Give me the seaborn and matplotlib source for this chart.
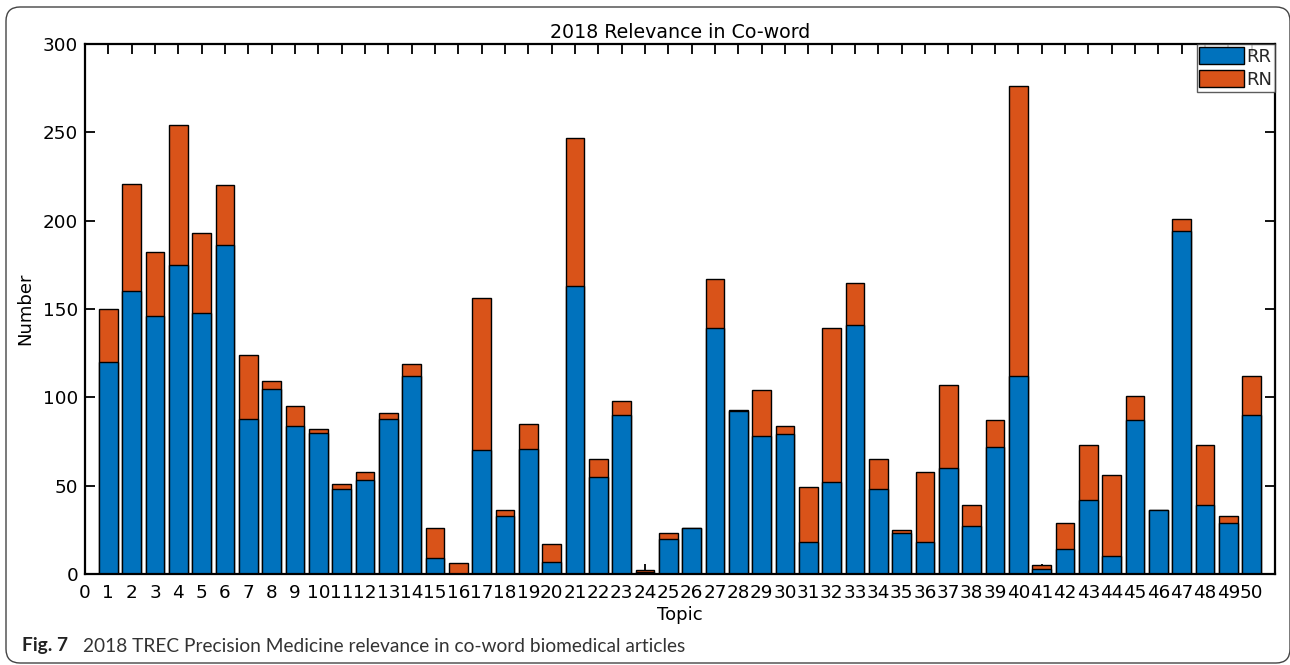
import numpy as np
import pandas as pd
import seaborn as sns
import matplotlib
matplotlib.use("Agg")
import matplotlib.pyplot as plt
from matplotlib.patches import FancyBboxPatch, Patch
from matplotlib.transforms import IdentityTransform

# Topic numbers and relevance counts per topic
topics = list(range(1, 51))
rr = [120, 160, 146, 175, 148, 186, 88, 105, 84, 80,
      48, 53, 88, 112, 9, 0, 70, 33, 71, 7,
      163, 55, 90, 1, 20, 26, 139, 92, 78, 79,
      18, 52, 141, 48, 23, 18, 60, 27, 72, 112,
      3, 14, 42, 10, 87, 36, 194, 39, 29, 90]
rn = [30, 61, 36, 79, 45, 34, 36, 4, 11, 2,
      3, 5, 3, 7, 17, 6, 86, 3, 14, 10,
      84, 10, 8, 1, 3, 0, 28, 1, 26, 5,
      31, 87, 24, 17, 2, 40, 47, 12, 15, 164,
      2, 15, 31, 46, 14, 0, 7, 34, 4, 22]
series_names = ["RR", "RN"]
y_ticks = [0, 50, 100, 150, 200, 250, 300]

BLUE = "#0072BD"
ORANGE = "#D95319"

df = pd.DataFrame({"Topic": topics, "RR": rr, "RN": rn})
df["Total"] = df["RR"] + df["RN"]

sns.set_theme(style="white")
plt.rcParams["font.family"] = ["DejaVu Sans"]

fig = plt.figure(figsize=(12.9, 6.65), dpi=100)
ax = fig.add_axes([85 / 1290, 1 - 574 / 665, (1275 - 85) / 1290, (574 - 44) / 665])

bar_kw = dict(native_scale=True, width=0.8, edgecolor="black", linewidth=1.0,
              errorbar=None, ax=ax, zorder=2)
# Stacked bars: full height in RN colour, RR drawn over the lower part
sns.barplot(data=df, x="Topic", y="Total", color=ORANGE, saturation=1, **bar_kw)
sns.barplot(data=df, x="Topic", y="RR", color=BLUE, saturation=1, **bar_kw)

ax.set_xlim(0, 51)
ax.set_ylim(0, 300)
ax.set_xticks(range(0, 51))
ax.set_xticklabels([str(i) for i in range(0, 51)])
ax.set_yticks(y_ticks)
ax.set_yticklabels([str(v) for v in y_ticks])
ax.tick_params(axis="both", which="both", direction="in", length=7.5, width=1.3,
               color="black", labelsize=13.2, labelcolor="black",
               top=True, right=True, bottom=True, left=True)
ax.tick_params(axis="x", pad=7)
ax.tick_params(axis="y", pad=5)
for sp in ax.spines.values():
    sp.set_color("black")
    sp.set_linewidth(1.6)
    sp.set_zorder(5)

ax.set_xlabel("Topic", fontsize=13, color="black", labelpad=3)
ax.set_ylabel("Number", fontsize=13, color="black", labelpad=6)
ax.set_title("2018 Relevance in Co-word", fontsize=13.7, color="black", pad=4)

handles = [Patch(facecolor=BLUE, edgecolor="black", linewidth=1.0),
           Patch(facecolor=ORANGE, edgecolor="black", linewidth=1.0)]
leg = ax.legend(handles, series_names, loc="upper right", fontsize=13,
                frameon=True, fancybox=False, borderpad=0.15, borderaxespad=0.0,
                handlelength=2.5, handleheight=1.1, handletextpad=0.1,
                labelspacing=0.25)
leg.get_frame().set_edgecolor("#333333")
leg.get_frame().set_linewidth(1.0)

# Rounded caption frame around the figure
frame = FancyBboxPatch((6, 2), 1284, 656, boxstyle="round,pad=0,rounding_size=14",
                       transform=IdentityTransform(), facecolor="none",
                       edgecolor="#444444", linewidth=1.0)
fig.add_artist(frame)

fig.text(22 / 1290, 1 - 646 / 665, "Fig. 7", fontsize=13.8, fontweight="bold",
         family=["Lato", "DejaVu Sans"], color="#222222", va="center", ha="left")
fig.text(83 / 1290, 1 - 646 / 665,
         "2018 TREC Precision Medicine relevance in co-word biomedical articles",
         fontsize=13.8, family=["Lato", "DejaVu Sans"], color="#333333",
         va="center", ha="left")

fig.savefig("out.png", dpi=100)
